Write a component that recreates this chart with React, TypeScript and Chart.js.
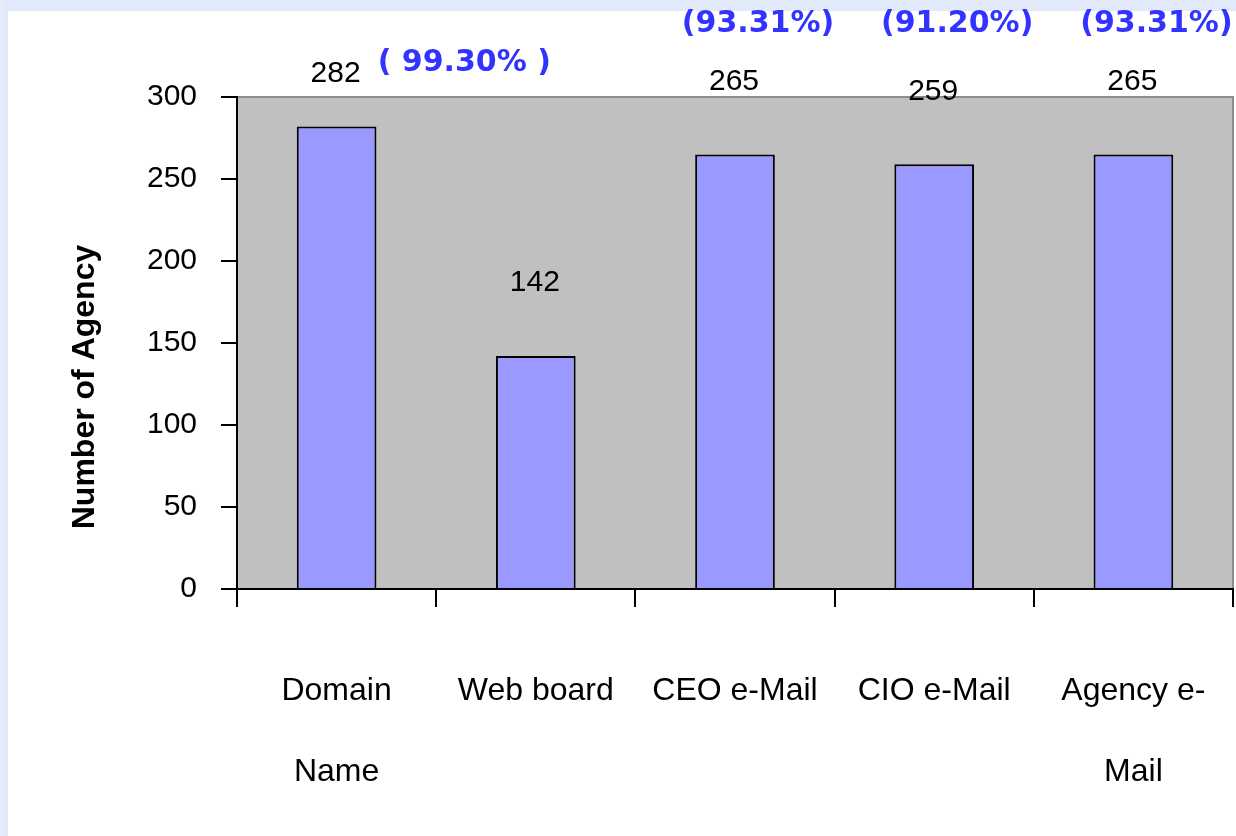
import React, { useEffect, useRef } from "react";
import { Chart, registerables } from "chart.js";

Chart.register(...registerables);

const categories: (string | string[])[] = [
  ["Domain", "Name"],
  "Web board",
  "CEO e-Mail",
  "CIO e-Mail",
  ["Agency e-", "Mail"],
];
const agencyCounts = [282, 142, 265, 259, 265];
const percentLabels = ["( 99.30% )", "", "(93.31%)", "(91.20%)", "(93.31%)"];
const yTicks = [0, 50, 100, 150, 200, 250, 300];
const yTitle = "Number of Agency";

const FONT = "'Liberation Sans', Arial, sans-serif";

const decorPlugin = {
  id: "decor",
  beforeDraw(chart: any) {
    const { ctx, chartArea } = chart;
    ctx.save();
    ctx.fillStyle = "#C0C0C0";
    ctx.fillRect(chartArea.left, chartArea.top, chartArea.right - chartArea.left, chartArea.bottom - chartArea.top);
    ctx.strokeStyle = "#8C8C8C";
    ctx.lineWidth = 2;
    ctx.beginPath();
    ctx.moveTo(chartArea.left, chartArea.top);
    ctx.lineTo(chartArea.right, chartArea.top);
    ctx.lineTo(chartArea.right, chartArea.bottom);
    ctx.stroke();
    ctx.restore();
  },
  afterDraw(chart: any) {
    const { ctx } = chart;
    const meta = chart.getDatasetMeta(0);
    ctx.save();
    // value labels
    ctx.font = `30px ${FONT}`;
    ctx.fillStyle = "#000";
    ctx.textAlign = "center";
    ctx.textBaseline = "middle";
    const labelYs: number[] = [];
    meta.data.forEach((bar: any, i: number) => {
      const y = Math.max(bar.y - 73, 74);
      labelYs.push(y);
      ctx.fillText(String(agencyCounts[i]), bar.x - 1, y);
    });
    // percentage labels
    const pctFont = `bold 30px 'DejaVu Sans', Verdana, sans-serif`;
    ctx.fillStyle = "#3333FF";
    meta.data.forEach((bar: any, i: number) => {
      const t = percentLabels[i];
      if (!t) return;
      if (i === 0) {
        ctx.textAlign = "left";
        ctx.font = `30px ${FONT}`;
        const w = ctx.measureText(String(agencyCounts[i])).width;
        ctx.font = pctFont;
        ctx.fillText(t, bar.x + w / 2 + 16, labelYs[i] - 11);
      } else {
        ctx.textAlign = "center";
        ctx.font = pctFont;
        ctx.fillText(t, bar.x + 23, 24);
      }
    });
    // y title
    ctx.font = `bold 32px ${FONT}`;
    ctx.fillStyle = "#000";
    ctx.textAlign = "center";
    ctx.translate(85, 387);
    ctx.rotate(-Math.PI / 2);
    ctx.fillText(yTitle, 0, 0);
    ctx.restore();
  },
};

export default function App() {
  const ref = useRef<HTMLCanvasElement>(null);
  useEffect(() => {
    if (!ref.current) return;
    const chart = new Chart(ref.current, {
      type: "bar",
      data: {
        labels: categories,
        datasets: [
          {
            data: agencyCounts,
            backgroundColor: "#9999FF",
            borderColor: "#000000",
            borderWidth: 2,
            barPercentage: 0.4,
            categoryPercentage: 1,
          },
        ],
      },
      options: {
        animation: false,
        responsive: false,
        maintainAspectRatio: false,
        layout: { padding: { top: 97, right: 3, left: 0, bottom: 0 } },
        plugins: { legend: { display: false }, tooltip: { enabled: false } },
        scales: {
          x: {
            offset: true,
            grid: {
              offset: true,
              drawOnChartArea: false,
              drawTicks: true,
              tickLength: 18,
              color: "#000",
              lineWidth: 2,
            },
            border: { display: true, color: "#000", width: 2 },
            ticks: {
              color: "#000",
              font: { family: FONT, size: 32, lineHeight: 81 / 32 },
              padding: 44,
              maxRotation: 0,
              autoSkip: false,
            },
            afterFit(scale: any) {
              scale.height = 836 - 589;
              scale.paddingLeft = 0;
              scale.paddingRight = 0;
            },
          },
          y: {
            min: 0,
            max: 300,
            afterBuildTicks(scale: any) {
              scale.ticks = yTicks.map((v) => ({ value: v }));
            },
            grid: {
              drawOnChartArea: false,
              drawTicks: true,
              tickLength: 16,
              color: "#000",
              lineWidth: 2,
            },
            border: { display: true, color: "#000", width: 2 },
            ticks: {
              color: "#000",
              font: { family: FONT, size: 30 },
              padding: 24,
            },
            afterFit(scale: any) {
              scale.width = 237;
            },
          },
        },
      },
      plugins: [decorPlugin],
    });
    return () => chart.destroy();
  }, []);

  return (
    <div
      style={{
        position: "fixed",
        left: 0,
        top: 0,
        width: 1236,
        height: 836,
        background: "linear-gradient(90deg, #E6ECFB 0px, #E1E9FA 8px)",
        overflow: "hidden",
      }}
    >
      <div
        style={{
          position: "absolute",
          left: 8,
          top: 11,
          right: 0,
          bottom: 0,
          background: "#FFFFFF",
        }}
      />
      <canvas
        ref={ref}
        width={1236}
        height={836}
        style={{ position: "absolute", left: 0, top: 0, width: 1236, height: 836 }}
      />
    </div>
  );
}
